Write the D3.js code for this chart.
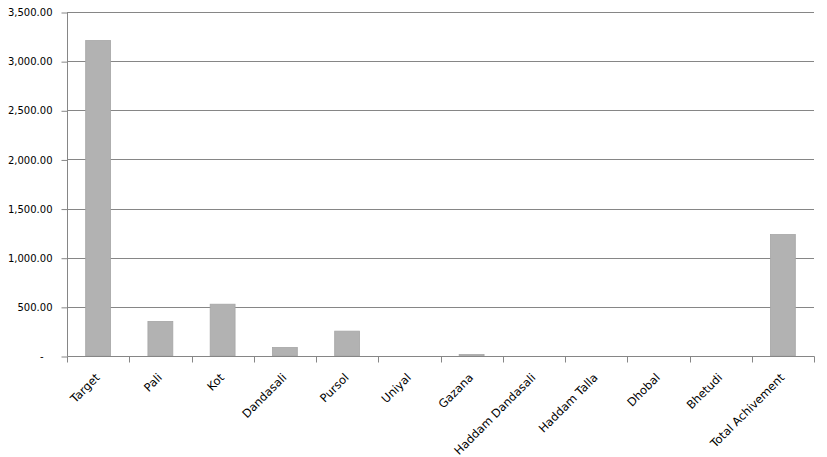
<!DOCTYPE html>
<html><head><meta charset="utf-8">
<script src="https://cdn.jsdelivr.net/npm/d3@7"></script>
<style>body{margin:0;background:#fff}svg{display:block}</style>
</head><body>
<svg id="c" width="827" height="457"></svg>
<script>
const categories = ["Target","Pali","Kot","Dandasali","Pursol","Uniyal","Gazana","Haddam Dandasali","Haddam Talla","Dhobal","Bhetudi","Total Achivement"];
const values = [3210, 352, 527, 87, 253, 0, 15, 0, 0, 0, 0, 1236];
const yTicks = [0, 500, 1000, 1500, 2000, 2500, 3000, 3500];

const svg = d3.select("#c");
const m = {l: 67, r: 13, t: 12, b: 101};
const W = 827, H = 457;
const x = d3.scaleBand().domain(categories).range([m.l, W - m.r]).paddingInner(0.6).paddingOuter(0.3);
const xb = d3.scaleBand().domain(categories).range([m.l, W - m.r]);
const y = d3.scaleLinear().domain([0, 3500]).range([H - m.b, m.t]);
const font = "'DejaVu Sans', sans-serif";

// gridlines
svg.append("g").selectAll("line").data(yTicks.filter(d => d > 0)).join("line")
  .attr("x1", m.l).attr("x2", W - m.r)
  .attr("y1", d => Math.round(y(d)) + 0.5).attr("y2", d => Math.round(y(d)) + 0.5)
  .attr("stroke", "#868686").attr("stroke-width", 1);

// bars
svg.append("g").selectAll("rect").data(categories).join("rect")
  .attr("x", (d) => x(d))
  .attr("width", x.bandwidth())
  .attr("y", (d, i) => y(values[i]))
  .attr("height", (d, i) => y(0) - y(values[i]))
  .attr("fill", "#b2b2b2").attr("stroke", "#a6a6a6").attr("stroke-width", 0.8);

// y axis
const yAxis = d3.axisLeft(y).tickValues(yTicks).tickSize(6).tickPadding(9)
  .tickFormat(d => d === 0 ? "-" : d3.format(",.2f")(d));
const ga = svg.append("g").attr("transform", `translate(${m.l + 0.5},0.5)`).call(yAxis);
ga.select(".domain").attr("stroke", "#868686").attr("d", `M0,${y(3500)}V${y(0)}`);
ga.selectAll(".tick line").attr("stroke", "#868686");
ga.selectAll(".tick text").attr("font-family", font).attr("font-size", 10).attr("fill", "#000");
ga.selectAll(".tick").filter(d => d === 0).select("text").attr("dx", -9);

// x axis (ticks at category boundaries)
const gx = svg.append("g").attr("transform", `translate(0.5,${Math.round(y(0)) + 0.5})`);
gx.append("line").attr("x1", m.l).attr("x2", W - m.r).attr("stroke", "#868686");
const bounds = categories.map(c => xb(c)).concat([W - m.r]);
gx.selectAll("line.t").data(bounds).join("line").attr("class", "t")
  .attr("x1", d => Math.round(d)).attr("x2", d => Math.round(d)).attr("y1", 0).attr("y2", 6)
  .attr("stroke", "#868686");
gx.selectAll("text").data(categories).join("text")
  .attr("transform", d => `translate(${x(d) + x.bandwidth() / 2 - 1},19) rotate(-45)`)
  .attr("text-anchor", "end").attr("font-family", font).attr("font-size", 11.5)
  .attr("dy", "0.35em").attr("fill", "#000").text(d => d);
</script>
</body></html>
